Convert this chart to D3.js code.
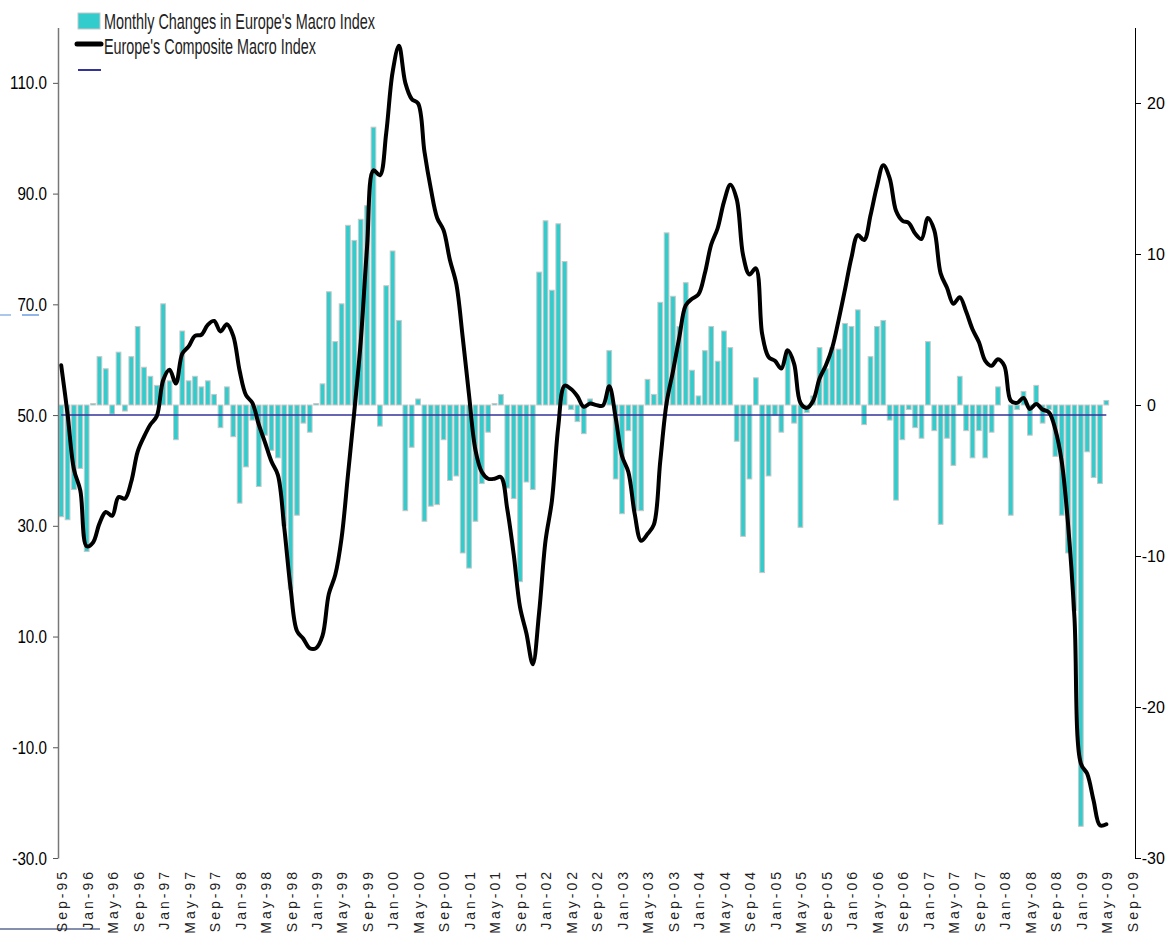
<!DOCTYPE html>
<html><head><meta charset="utf-8">
<script src="https://cdn.jsdelivr.net/npm/d3@7"></script>
<style>
body{margin:0;background:#fff;overflow:hidden;}
svg{display:block;}
</style></head><body>
<svg id="chart" width="1169" height="935"></svg>
<script>
// ---------- DATA ----------
const categories = [
 "Sep-95","Oct-95","Nov-95","Dec-95",
 "Jan-96","Feb-96","Mar-96","Apr-96","May-96","Jun-96","Jul-96","Aug-96","Sep-96","Oct-96","Nov-96","Dec-96",
 "Jan-97","Feb-97","Mar-97","Apr-97","May-97","Jun-97","Jul-97","Aug-97","Sep-97","Oct-97","Nov-97","Dec-97",
 "Jan-98","Feb-98","Mar-98","Apr-98","May-98","Jun-98","Jul-98","Aug-98","Sep-98","Oct-98","Nov-98","Dec-98",
 "Jan-99","Feb-99","Mar-99","Apr-99","May-99","Jun-99","Jul-99","Aug-99","Sep-99","Oct-99","Nov-99","Dec-99",
 "Jan-00","Feb-00","Mar-00","Apr-00","May-00","Jun-00","Jul-00","Aug-00","Sep-00","Oct-00","Nov-00","Dec-00",
 "Jan-01","Feb-01","Mar-01","Apr-01","May-01","Jun-01","Jul-01","Aug-01","Sep-01","Oct-01","Nov-01","Dec-01",
 "Jan-02","Feb-02","Mar-02","Apr-02","May-02","Jun-02","Jul-02","Aug-02","Sep-02","Oct-02","Nov-02","Dec-02",
 "Jan-03","Feb-03","Mar-03","Apr-03","May-03","Jun-03","Jul-03","Aug-03","Sep-03","Oct-03","Nov-03","Dec-03",
 "Jan-04","Feb-04","Mar-04","Apr-04","May-04","Jun-04","Jul-04","Aug-04","Sep-04","Oct-04","Nov-04","Dec-04",
 "Jan-05","Feb-05","Mar-05","Apr-05","May-05","Jun-05","Jul-05","Aug-05","Sep-05","Oct-05","Nov-05","Dec-05",
 "Jan-06","Feb-06","Mar-06","Apr-06","May-06","Jun-06","Jul-06","Aug-06","Sep-06","Oct-06","Nov-06","Dec-06",
 "Jan-07","Feb-07","Mar-07","Apr-07","May-07","Jun-07","Jul-07","Aug-07","Sep-07","Oct-07","Nov-07","Dec-07",
 "Jan-08","Feb-08","Mar-08","Apr-08","May-08","Jun-08","Jul-08","Aug-08","Sep-08","Oct-08","Nov-08","Dec-08",
 "Jan-09","Feb-09","Mar-09","Apr-09","May-09","Jun-09","Jul-09","Aug-09","Sep-09"
];

// Monthly Changes in Europe's Macro Index (right axis), Sep-95 .. May-09
const monthlyChanges = [
 -7.4,-7.6,-5.6,-4.2,
 -9.7,0.1,3.2,2.4,-0.6,3.5,-0.4,3.2,5.2,2.5,1.9,1.3,
 6.7,1.6,-2.3,4.9,1.6,1.9,1.2,1.6,0.7,-1.5,1.2,-2.1,
 -6.5,-4.1,-1.0,-5.4,-2.0,-3.0,-3.5,-8.0,-12.2,-7.3,-1.2,-1.8,
 0.1,1.4,7.5,4.2,6.7,11.9,10.9,12.3,13.2,18.4,-1.4,7.9,
 10.2,5.6,-7.0,-2.8,0.4,-7.7,-6.7,-6.6,-2.3,-5.0,-4.7,-9.8,
 -10.8,-7.7,-5.2,-1.8,0.1,0.7,-5.5,-6.2,-11.7,-5.1,-5.6,8.8,
 12.2,7.6,12.0,9.5,-0.3,-1.1,-1.9,0.4,0.1,0.0,3.6,-4.9,
 -7.2,-1.7,-7.0,-7.0,1.7,0.7,6.8,11.4,7.2,5.2,8.1,2.3,
 0.6,3.6,5.2,2.9,4.9,3.8,-2.4,-8.7,-4.9,1.8,-11.1,-4.7,
 -0.7,-1.8,3.6,-1.2,-8.1,-0.5,0.6,3.8,2.4,3.8,3.7,5.4,
 5.2,6.3,-1.3,3.2,5.2,5.6,-1.0,-6.3,-2.3,-0.3,-1.5,-2.2,
 4.2,-1.7,-7.9,-2.2,-4.0,1.9,-1.7,-3.5,-1.7,-3.5,-1.8,1.2,
 0.0,-7.3,-0.3,0.9,-2.0,1.3,-1.2,-0.3,-3.4,-7.3,-9.8,-13.6,
 -27.9,-3.1,-4.8,-5.2,0.3
];

// Europe's Composite Macro Index (left axis), Sep-95 .. May-09
const compositeIndex = [
 59.0,50.2,40.2,36.4,
 26.3,27.0,30.4,32.5,31.8,35.2,34.9,38.0,43.4,46.1,48.3,49.8,
 56.3,58.2,55.7,61.1,62.4,64.3,64.5,66.3,67.0,65.1,66.4,64.3,
 58.0,53.6,52.2,48.3,45.0,41.6,39.2,29.7,18.7,11.0,9.6,7.9,
 7.9,10.1,17.7,21.1,27.8,39.2,50.7,63.2,80.4,94.2,93.3,100.9,
 111.9,116.7,110.0,107.1,106.3,97.6,90.9,85.6,83.4,78.0,73.7,64.1,
 53.6,43.7,39.7,38.5,38.5,38.8,33.0,24.9,15.3,10.6,5.0,14.4,
 27.3,34.5,47.9,55.3,54.7,53.4,51.5,52.1,51.8,51.7,55.2,49.6,
 42.6,39.7,32.1,27.3,28.5,30.2,41.6,52.2,57.9,64.1,69.8,71.0,
 71.8,75.6,80.8,83.7,88.5,91.6,89.0,78.9,75.4,76.5,64.6,60.5,
 59.8,58.4,61.7,59.3,52.2,51.3,52.6,56.6,59.0,62.2,67.2,72.7,
 78.4,82.5,81.6,86.1,91.3,95.1,92.8,86.9,85.1,84.7,82.8,81.8,
 85.6,83.4,75.6,73.0,70.1,71.3,68.7,65.5,63.2,59.8,58.9,60.1,
 58.9,52.6,52.2,53.1,51.1,52.0,51.0,50.5,47.4,41.6,30.2,13.4,
 -12.9,-14.8,-19.6,-24.1,-23.9
];

const referenceLevel = 50;   // horizontal reference series on left axis

const leftTicks  = [110, 90, 70, 50, 30, 10, -10, -30];
const rightTicks = [20, 10, 0, -10, -20, -30];
const xTickLabels = [
 "Sep-95","Jan-96","May-96","Sep-96","Jan-97","May-97","Sep-97","Jan-98","May-98","Sep-98",
 "Jan-99","May-99","Sep-99","Jan-00","May-00","Sep-00","Jan-01","May-01","Sep-01","Jan-02",
 "May-02","Sep-02","Jan-03","May-03","Sep-03","Jan-04","May-04","Sep-04","Jan-05","May-05",
 "Sep-05","Jan-06","May-06","Sep-06","Jan-07","May-07","Sep-07","Jan-08","May-08","Sep-08",
 "Jan-09","May-09","Sep-09"
];
const legendLabels = ["Monthly Changes in Europe's Macro Index", "Europe's Composite Macro Index", ""];

// ---------- CHART ----------
const svg = d3.select("#chart");
const L = 58, R = 1135, T = 27.5, B = 858;
const font = "'Liberation Sans',Arial,sans-serif";

const x = d3.scaleBand().domain(categories).range([L, R]).paddingInner(0.26).paddingOuter(0.13);
const yL = d3.scaleLinear().domain([-30, 120]).range([B, T]);
const yR = d3.scaleLinear().domain([-30, 25]).range([B, T]);
const cx = i => x(categories[i]) + x.bandwidth() / 2;

// condense a text horizontally (narrow face look)
function condense(sel, f) {
  sel.each(function () {
    const w = this.getComputedTextLength();
    this.setAttribute("textLength", (w * f).toFixed(2));
    this.setAttribute("lengthAdjust", "spacingAndGlyphs");
  });
}

// stray marks in the reference image
svg.append("line").attr("x1",0).attr("x2",11).attr("y1",315).attr("y2",315).attr("stroke","#8fb5e6").attr("stroke-width",1.5);
svg.append("line").attr("x1",22).attr("x2",39).attr("y1",315).attr("y2",315).attr("stroke","#6d9ce0").attr("stroke-width",1.5);
svg.append("line").attr("x1",0).attr("x2",100).attr("y1",929).attr("y2",929).attr("stroke","#5a6a90").attr("stroke-width",1.5);

// bars
svg.append("g").selectAll("rect").data(monthlyChanges).join("rect")
  .attr("x", (d, i) => x(categories[i]))
  .attr("width", x.bandwidth())
  .attr("y", d => yR(Math.max(0, d)))
  .attr("height", d => Math.abs(yR(d) - yR(0)))
  .attr("fill", "#33cccc")
  .attr("stroke", "#c8c8c8")
  .attr("stroke-width", 1);

// reference line (50)
svg.append("path")
  .datum(compositeIndex.map(() => referenceLevel))
  .attr("fill", "none").attr("stroke", "#333399").attr("stroke-width", 1.5)
  .attr("d", d3.line().x((d, i) => cx(i)).y(d => yL(d)));

// composite index line
svg.append("path")
  .datum(compositeIndex)
  .attr("fill", "none").attr("stroke", "#000").attr("stroke-width", 4)
  .attr("stroke-linejoin", "round").attr("stroke-linecap", "round")
  .attr("d", d3.line().x((d, i) => cx(i)).y(d => yL(d)).curve(d3.curveCatmullRom.alpha(0.5)));

// left axis
const gL = svg.append("g").attr("transform", `translate(${L},0)`)
  .call(d3.axisLeft(yL).tickValues(leftTicks).tickFormat(d => d.toFixed(1)).tickSize(5).tickSizeOuter(0).tickPadding(6));
gL.select(".domain").attr("stroke", "#777").attr("stroke-width", 1.5);
gL.selectAll(".tick line").attr("stroke", "#555");
gL.selectAll(".tick text").attr("font-family", font).attr("font-size", 19).attr("fill", "#000");
condense(gL.selectAll(".tick text"), 0.8);

// right axis
const gR = svg.append("g").attr("transform", `translate(${R},0)`)
  .call(d3.axisRight(yR).tickValues(rightTicks).tickFormat(d => String(d)).tickSize(6).tickSizeOuter(0).tickPadding(6));
gR.select(".domain").attr("stroke", "#000");
gR.selectAll(".tick line").attr("stroke", "#000");
gR.selectAll(".tick text").attr("font-family", font).attr("font-size", 16).attr("fill", "#000")
  .attr("dx", d => d < 0 ? "-5.3" : "0");

// x labels
svg.append("g").selectAll("text").data(xTickLabels).join("text")
  .attr("transform", d => `translate(${cx(categories.indexOf(d)) + 1},869) rotate(-90)`)
  .attr("text-anchor", "end").attr("dy", "0.35em")
  .attr("font-family", font).attr("font-size", 14).attr("letter-spacing", "3px")
  .attr("fill", "#222")
  .text(d => d);

// legend
const lg = svg.append("g");
lg.append("rect").attr("x", 78).attr("y", 13).attr("width", 22).attr("height", 16)
  .attr("fill", "#33cccc").attr("stroke", "#c8c8c8").attr("stroke-width", 1);
lg.append("line").attr("x1", 77).attr("x2", 101).attr("y1", 44).attr("y2", 44)
  .attr("stroke", "#000").attr("stroke-width", 5).attr("stroke-linecap", "round");
lg.append("line").attr("x1", 78).attr("x2", 101).attr("y1", 70).attr("y2", 70)
  .attr("stroke", "#333399").attr("stroke-width", 2);
const legW = [271, 212];
[0, 1].forEach(k => {
  lg.append("text").attr("x", 104).attr("y", 29 + k * 24.5)
    .attr("font-family", font).attr("font-size", 22).attr("fill", "#222")
    .attr("textLength", legW[k]).attr("lengthAdjust", "spacingAndGlyphs")
    .text(legendLabels[k]);
});
</script>
</body></html>
